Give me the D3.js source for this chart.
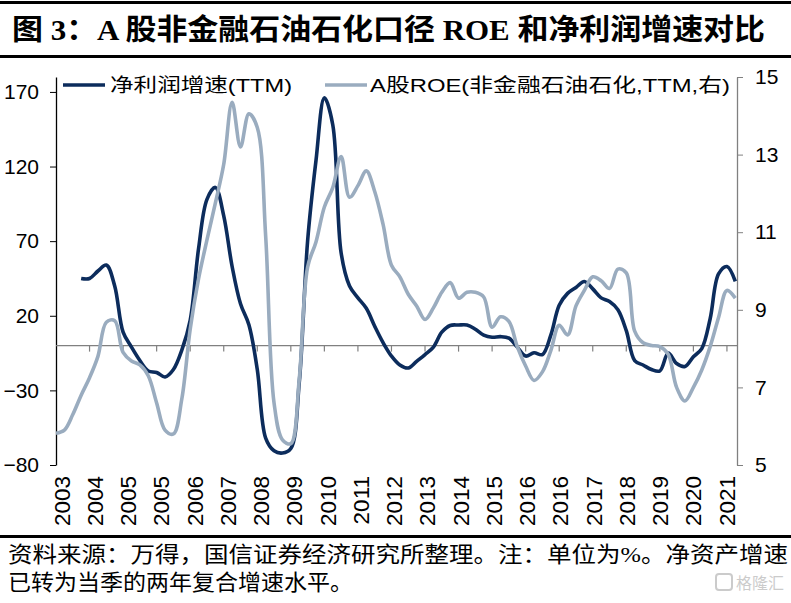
<!DOCTYPE html>
<html><head><meta charset="utf-8">
<script src="https://cdn.jsdelivr.net/npm/d3@7"></script>
<style>body{margin:0;background:#fff}svg{display:block}</style>
</head><body>
<svg id="c" width="791" height="603"></svg>
<script>
// ---- data ----
const xLabels = ["2003","2004","2005","2005","2006","2007","2008","2009","2010","2011","2012","2013","2014","2015","2016","2016","2017","2018","2019","2020","2021"];
const labelEvery = 4;           // categories per axis label
const profitStartIndex = 3;     // first category with profit data
// 净利润增速(TTM), % (left axis)
const profitGrowth = [45,45,50,54,40,9,-1,-10,-17,-18,-21,-16,-3,17,65,98,106,87,53,28,14,-16,-62,-70.5,-72,-69,-25,70,124,166,148,62,40,32,25,13,2,-7,-13,-15,-10.5,-6,-1,9,13.5,13.8,13.8,11,7,5.6,6,5,-1,-7,-4.8,-6,7,27,35,39,43,38,32,29.5,24,10,-10,-13,-16,-17,-5,-12,-14,-7.5,-2,18,48,53,43];
// A股ROE(非金融石油石化,TTM), % (right axis)
const roe = [5.82,5.9,6.3,6.8,7.25,7.8,8.68,8.72,7.9,7.68,7.58,7.3,6.6,5.9,5.8,6.7,8.5,9.8,10.8,11.75,12.75,14.35,13.2,14.05,13.7,10.9,6.6,5.65,5.55,7.2,10.1,10.75,11.65,12.15,12.95,11.9,12.2,12.58,12.05,11.2,10.15,9.85,9.4,9.1,8.75,9.05,9.45,9.7,9.3,9.45,9.45,9.33,8.55,8.82,8.7,8.05,7.55,7.18,7.4,7.95,8.6,8.35,9.1,9.5,9.85,9.75,9.55,10.05,9.95,8.45,8.15,8.08,8.05,7.85,7.0,6.65,7.0,7.45,8.05,8.8,9.5,9.3];
const leftTicks = [170,120,70,20,-30,-80];
const rightTicks = [15,13,11,9,7,5];
const seriesNames = ["净利润增速(TTM)","A股ROE(非金融石油石化,TTM,右)"];
const title = "图 3：A 股非金融石油石化口径 ROE 和净利润增速对比";
const footer1 = "资料来源：万得，国信证券经济研究所整理。注：单位为%。净资产增速";
const footer2 = "已转为当季的两年复合增速水平。";

// ---- drawing ----
const svg = d3.select("#c");
const dark = "#0c2c5c", grey = "#9aacbf", axisGrey = "#808080";
const sansF = "'Liberation Sans', Arial, sans-serif";
const cjkF = "'Liberation Serif','Noto Sans CJK SC',serif";
const legF = "'Liberation Sans','Noto Sans CJK SC',sans-serif";

const L = 56, R = 737, T = 77, B = 465;
const x = d3.scaleLinear().domain([0, 81.2]).range([L, R]);
const yL = d3.scaleLinear().domain([-80, 180]).range([B, T]);
const yR = d3.scaleLinear().domain([5, 15]).range([B, T]);

// frame lines
svg.append("rect").attr("x",0).attr("y",1).attr("width",791).attr("height",3).attr("fill","#000");
svg.append("rect").attr("x",0).attr("y",55).attr("width",791).attr("height",3).attr("fill","#000");
svg.append("rect").attr("x",0).attr("y",535).attr("width",791).attr("height",3).attr("fill","#000");

// title
svg.append("text").attr("x",12).attr("y",40).attr("font-family",cjkF).attr("font-weight","bold")
  .attr("font-size",29).attr("textLength",753).attr("lengthAdjust","spacingAndGlyphs").text(title);

// left axis
const ax = svg.append("g").attr("transform",`translate(${L},0)`)
  .call(d3.axisLeft(yL).tickValues(leftTicks).tickSize(6).tickSizeOuter(0).tickPadding(11));
ax.selectAll("text").attr("font-family",sansF).attr("font-size",21).attr("fill","#000");
ax.select(".domain").attr("stroke","#000").attr("stroke-width",1.3);
ax.selectAll(".tick line").attr("stroke","#000");

// right axis
const ar = svg.append("g").attr("transform",`translate(${R},0)`)
  .call(d3.axisRight(yR).tickValues(rightTicks).tickSize(6).tickSizeOuter(0).tickPadding(12));
ar.selectAll("text").attr("font-family",sansF).attr("font-size",21).attr("fill","#000");
ar.select(".domain").attr("stroke",axisGrey).attr("stroke-width",1.3);
ar.selectAll(".tick line").attr("stroke",axisGrey);

// zero line (category axis)
const y0 = yL(0);
svg.append("line").attr("x1",L).attr("x2",R).attr("y1",y0).attr("y2",y0).attr("stroke",axisGrey).attr("stroke-width",1.3);
const tickIdx = d3.range(1, xLabels.length).map(k => k*labelEvery);
svg.selectAll(".xt").data(tickIdx).enter().append("line")
  .attr("x1",d=>x(d)).attr("x2",d=>x(d)).attr("y1",y0).attr("y2",y0+6).attr("stroke",axisGrey).attr("stroke-width",1.2);

// x labels
const xl = d3.scalePoint().domain(d3.range(xLabels.length)).range([62, 727]);
svg.selectAll(".xl").data(xLabels).enter().append("text")
  .attr("transform",(d,i)=>`translate(${xl(i)},476) rotate(-90)`)
  .attr("text-anchor","end").attr("dominant-baseline","central")
  .attr("font-family",sansF).attr("font-size",22.5).text(d=>d);

// lines
const lineL = d3.line().x(d=>x(d.i)).y(d=>yL(d.v)).curve(d3.curveCatmullRom.alpha(0.5));
const lineR = d3.line().x(d=>x(d.i)).y(d=>yR(d.v)).curve(d3.curveCatmullRom.alpha(0.5));
const pData = profitGrowth.map((v,k)=>({i:k+profitStartIndex,v}));
const rData = roe.map((v,k)=>({i:k,v}));
svg.append("path").datum(pData).attr("d",lineL).attr("fill","none").attr("stroke",dark).attr("stroke-width",3.6).attr("stroke-linejoin","round");
svg.append("path").datum(rData).attr("d",lineR).attr("fill","none").attr("stroke",grey).attr("stroke-width",3.6).attr("stroke-linejoin","round");

// legend
const lg = svg.append("g");
lg.append("line").attr("x1",63).attr("x2",105).attr("y1",85).attr("y2",85).attr("stroke",dark).attr("stroke-width",3.6);
lg.append("text").attr("x",110).attr("y",92).attr("font-family",legF).attr("font-size",19)
  .attr("textLength",182).attr("lengthAdjust","spacingAndGlyphs").text(seriesNames[0]);
lg.append("line").attr("x1",325).attr("x2",367).attr("y1",85).attr("y2",85).attr("stroke",grey).attr("stroke-width",3.6);
lg.append("text").attr("x",370).attr("y",92).attr("font-family",legF).attr("font-size",19)
  .attr("textLength",360).attr("lengthAdjust","spacingAndGlyphs").text(seriesNames[1]);

// footer
svg.append("text").attr("x",8).attr("y",562).attr("font-family",cjkF).attr("font-size",22)
  .attr("textLength",780).attr("lengthAdjust","spacingAndGlyphs").text(footer1);
svg.append("text").attr("x",8).attr("y",590).attr("font-family",cjkF).attr("font-size",22)
  .attr("textLength",345).attr("lengthAdjust","spacingAndGlyphs").text(footer2);

// watermark
const wm = svg.append("g").attr("opacity",0.5);
wm.append("rect").attr("x",716).attr("y",574).attr("width",16).attr("height",16).attr("rx",3)
  .attr("fill","none").attr("stroke","#999").attr("stroke-width",2);
wm.append("text").attr("x",736).attr("y",589).attr("font-family","'Noto Sans CJK SC'").attr("font-size",16)
  .attr("textLength",48).attr("lengthAdjust","spacingAndGlyphs")
  .attr("fill","#999").text("格隆汇");
</script>
</body></html>
